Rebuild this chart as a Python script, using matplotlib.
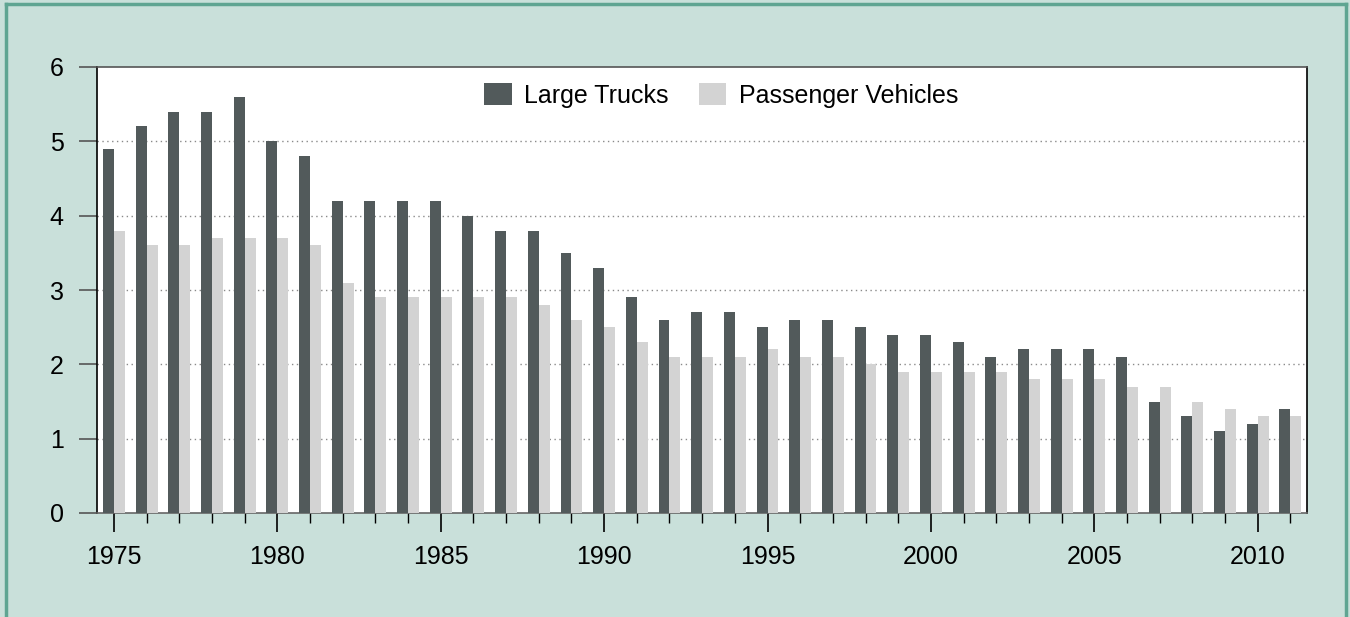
import numpy as np
import matplotlib
matplotlib.use('Agg')
import matplotlib.pyplot as plt
from matplotlib.lines import Line2D
from matplotlib.ticker import MultipleLocator

# --- Data ---
years = list(range(1975, 2012))
large_trucks = [4.9, 5.2, 5.4, 5.4, 5.6, 5.0, 4.8, 4.2, 4.2, 4.2,
                4.2, 4.0, 3.8, 3.8, 3.5, 3.3, 2.9, 2.6, 2.7, 2.7,
                2.5, 2.6, 2.6, 2.5, 2.4, 2.4, 2.3, 2.1, 2.2, 2.2,
                2.2, 2.1, 1.5, 1.3, 1.1, 1.2, 1.4]
passenger = [3.8, 3.6, 3.6, 3.7, 3.7, 3.7, 3.6, 3.1, 2.9, 2.9,
             2.9, 2.9, 2.9, 2.8, 2.6, 2.5, 2.3, 2.1, 2.1, 2.1,
             2.2, 2.1, 2.1, 2.0, 1.9, 1.9, 1.9, 1.9, 1.8, 1.8,
             1.8, 1.7, 1.7, 1.5, 1.4, 1.3, 1.3]
series_labels = ['Large Trucks', 'Passenger Vehicles']

# --- Style ---
bg = '#C9E0DA'
border = '#5FA592'
truck_col = '#525A5B'
pass_col = '#D3D3D3'
plt.rcParams['font.family'] = ['Liberation Sans', 'DejaVu Sans']

fig = plt.figure(figsize=(13.5, 6.17), dpi=100, facecolor=bg)
W, H = 1350, 617
ax = fig.add_axes([97 / W, 1 - 513 / H, (1307 - 97) / W, (513 - 67) / H])
ax.set_facecolor('white')

x = np.array(years)
bw = 0.335
ax.bar(x - bw / 2, large_trucks, width=bw, color=truck_col, label=series_labels[0], zorder=3)
ax.bar(x + bw / 2, passenger, width=bw, color=pass_col, label=series_labels[1], zorder=3)

ax.set_xlim(1974.48, 2011.51)
ax.set_ylim(0, 6)

# gridlines
for v in range(1, 6):
    ax.axhline(v, color='#8a8a8a', lw=1.0, ls=(0, (1, 2.5)), zorder=1)

ax.yaxis.set_major_locator(MultipleLocator(1))
ax.xaxis.set_major_locator(MultipleLocator(5))
ax.xaxis.set_minor_locator(MultipleLocator(1))

ax.tick_params(axis='y', length=13, width=1.2, color='#555555', pad=11, labelsize=18)
ax.tick_params(axis='x', which='major', length=14, width=1.2, color='black', pad=9, labelsize=18)
ax.tick_params(axis='x', which='minor', length=7, width=1.0, color='black')

ax.spines['left'].set_color('black')
ax.spines['right'].set_color('black')
ax.spines['top'].set_color('#555555')
ax.spines['bottom'].set_color('#666666')
for s in ax.spines.values():
    s.set_linewidth(1.2)

ax.legend(loc='upper center', bbox_to_anchor=(0.516, 1.015), ncol=2, frameon=False,
          fontsize=18, handlelength=1.1, handleheight=1.0, columnspacing=1.2,
          handletextpad=0.5)

# outer panel border (top, left, right)
fig.add_artist(Line2D([6 / W, 1346 / W], [1 - 4 / H, 1 - 4 / H], color=border, lw=2.5,
                      transform=fig.transFigure))
fig.add_artist(Line2D([6 / W, 6 / W], [0, 1 - 4 / H], color=border, lw=2.5,
                      transform=fig.transFigure))
fig.add_artist(Line2D([1346 / W, 1346 / W], [0, 1 - 4 / H], color=border, lw=2.5,
                      transform=fig.transFigure))

fig.savefig('out.png', dpi=100, facecolor=bg)
